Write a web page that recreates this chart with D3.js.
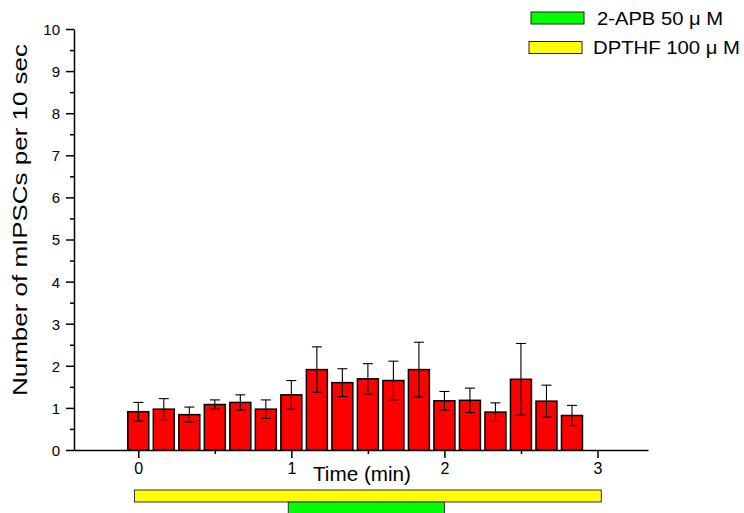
<!DOCTYPE html>
<html>
<head>
<meta charset="utf-8">
<script src="https://cdn.jsdelivr.net/npm/d3@7"></script>
<style>
  body { margin: 0; background: #fff; }
  svg { font-family: "Liberation Sans", Arial, sans-serif; }
</style>
</head>
<body>
<svg id="vis" width="744" height="513"></svg>
<script>
const svg = d3.select("#vis");

// 10 s bins, time of bin centre in minutes
const binTimes = d3.range(18).map(i => i / 6);
const counts = [0.91, 0.97, 0.84, 1.08, 1.13, 0.97, 1.31, 1.91, 1.60,
                1.69, 1.65, 1.91, 1.17, 1.18, 0.90, 1.68, 1.16, 0.82];
const errors = [0.22, 0.25, 0.18, 0.11, 0.18, 0.22, 0.34, 0.54, 0.33,
                0.36, 0.46, 0.65, 0.22, 0.29, 0.22, 0.85, 0.38, 0.24];

const xTicks = [0, 1, 2, 3];
const xMinor = [0.5, 1.5, 2.5];
const yTicks = d3.range(0, 11);
const yMinor = d3.range(0.5, 10, 1);

// drug application bars under the axis (minutes)
const drugNames = ["DPTHF 100 \u03bc M", "2-APB 50 \u03bc M"];
const drugStart = [-0.025, 0.98];
const drugEnd = [3.025, 2.0];
const drugColors = ["#ffff00", "#00ff00"];

const x = d3.scaleLinear().domain([-0.42, 3.33]).range([74, 648]);
const y = d3.scaleLinear().domain([0, 10]).range([450, 29]);
const barW = 0.137; // minutes

// bars
svg.selectAll(".bar").data(counts).join("rect")
    .attr("class", "bar")
    .attr("x", (d, i) => x(binTimes[i] - barW / 2))
    .attr("width", x(barW) - x(0))
    .attr("y", d => y(d))
    .attr("height", d => y(0) - y(d))
    .attr("fill", "#ff0000")
    .attr("stroke", "#000")
    .attr("stroke-width", 1.5);

// error bars
const eb = svg.selectAll(".err").data(counts).join("g").attr("class", "err")
    .attr("stroke", "#000").attr("stroke-width", 1.1);
eb.append("line")
    .attr("x1", (d, i) => x(binTimes[i])).attr("x2", (d, i) => x(binTimes[i]))
    .attr("y1", (d, i) => y(d + errors[i])).attr("y2", (d, i) => y(d - errors[i]));
[1, -1].forEach(s => {
  eb.append("line")
      .attr("x1", (d, i) => x(binTimes[i]) - 5).attr("x2", (d, i) => x(binTimes[i]) + 5)
      .attr("y1", (d, i) => y(d + s * errors[i])).attr("y2", (d, i) => y(d + s * errors[i]));
});

// x axis
const gx = svg.append("g").attr("transform", "translate(0,450)");
gx.call(d3.axisBottom(x).tickValues(xTicks).tickSize(8).tickSizeOuter(0).tickPadding(5).tickFormat(d3.format("d")));
gx.append("g").call(d3.axisBottom(x).tickValues(xMinor).tickSize(4).tickSizeOuter(0).tickFormat(""))
    .select(".domain").remove();
gx.selectAll("text").attr("font-size", 16).attr("font-family", null).attr("fill", "#000");
gx.selectAll("path, line").attr("stroke-width", 1.5);

// y axis
const gy = svg.append("g").attr("transform", "translate(74,0)");
gy.call(d3.axisLeft(y).tickValues(yTicks).tickSize(8).tickSizeOuter(0).tickPadding(6).tickFormat(d3.format("d")));
gy.append("g").call(d3.axisLeft(y).tickValues(yMinor).tickSize(4).tickSizeOuter(0).tickFormat(""))
    .select(".domain").remove();
gy.selectAll("text").attr("font-size", 15).attr("font-family", null).attr("fill", "#000").attr("dy", "0.36em");
gy.selectAll("path, line").attr("stroke-width", 1.5);

// axis titles
svg.append("text")
    .attr("x", 362).attr("y", 481)
    .attr("text-anchor", "middle")
    .attr("font-size", 20)
    .attr("textLength", 98).attr("lengthAdjust", "spacingAndGlyphs")
    .text("Time (min)");

svg.append("text")
    .attr("transform", "translate(27,220) rotate(-90)")
    .attr("text-anchor", "middle")
    .attr("font-size", 20)
    .attr("textLength", 352).attr("lengthAdjust", "spacingAndGlyphs")
    .text("Number of mIPSCs per 10 sec");

// drug bars below axis
const drugY = [490, 502];
svg.selectAll(".drug").data(drugNames).join("rect")
    .attr("class", "drug")
    .attr("x", (d, i) => x(drugStart[i]))
    .attr("width", (d, i) => x(drugEnd[i]) - x(drugStart[i]))
    .attr("y", (d, i) => drugY[i])
    .attr("height", 12)
    .attr("fill", (d, i) => drugColors[i])
    .attr("stroke", "#333")
    .attr("stroke-width", 1);

// legend (2-APB on top)
const legOrder = [1, 0];
const leg = svg.selectAll(".leg").data(legOrder).join("g")
    .attr("class", "leg")
    .attr("transform", (d, k) => `translate(${531 - 2 * k},${12 + 29.5 * k})`);
leg.append("rect")
    .attr("width", 53).attr("height", 12)
    .attr("fill", d => drugColors[d])
    .attr("stroke", "#222").attr("stroke-width", 1);
leg.append("text")
    .attr("x", (d, k) => 66 - 2 * k).attr("y", 12.5)
    .attr("font-size", 18)
    .attr("textLength", (d, k) => k === 0 ? 126 : 147).attr("lengthAdjust", "spacingAndGlyphs")
    .text(d => drugNames[d]);
</script>
</body>
</html>
